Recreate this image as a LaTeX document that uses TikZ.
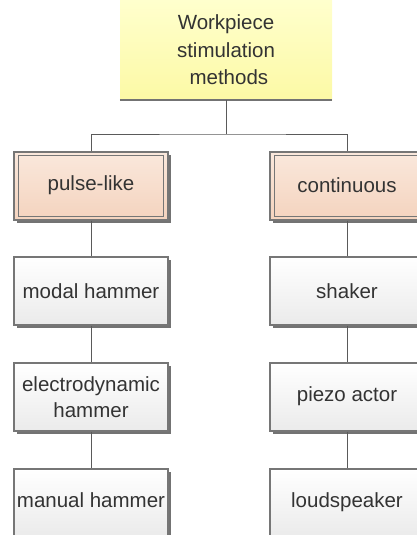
\documentclass[tikz,border=0pt]{standalone}
\usepackage{fontspec}
\setmainfont{Liberation Sans}
\usetikzlibrary{shadows}
\definecolor{txt}{HTML}{333333}
\definecolor{bord}{HTML}{767676}
\definecolor{conn}{HTML}{5A5A5A}
\tikzset{
  x=1pt, y=-1pt,
  lbl/.style={font=\fontsize{20.5}{26}\selectfont, text=txt, align=center, inner sep=0pt},
  whitebox/.style={lbl, rectangle, draw=bord, line width=1.2pt, minimum width=154pt, minimum height=68pt,
     top color=white, bottom color=black!8,
     drop shadow={shadow xshift=3pt, shadow yshift=-3pt, fill=black!55, opacity=1}},
  peachbox/.style={whitebox, top color={rgb,255:red,250;green,232;blue,220}, bottom color={rgb,255:red,244;green,211;blue,190}},
  topbox/.style={lbl, font=\fontsize{20.5}{27.5}\selectfont, rectangle, minimum width=212pt, minimum height=100pt,
     top color={rgb,255:red,255;green,255;blue,205}, bottom color={rgb,255:red,252;green,249;blue,165}},
  conline/.style={draw=conn, line width=1pt},
  inner/.style={draw=bord, line width=1pt}
}
\begin{document}
\begin{tikzpicture}
\useasboundingbox (0,0) rectangle (417,535);
\clip (0,0) rectangle (417,535);
% top
\node[topbox] (top) at (226,50) {Workpiece\\stimulation\\\ methods};
\draw[draw=black!55, line width=1.5pt] (top.south west) -- (top.south east);
% second level
\node[peachbox] (pulse) at (91,186) {\raisebox{5pt}{pulse-like}};
\node[peachbox] (cont) at (347,186) {\raisebox{2pt}{continuous}};
\foreach \n in {pulse,cont}{
  \draw[inner] ([shift={(5,4)}]\n.north west) rectangle ([shift={(-5,-4)}]\n.south east);
}
% third level
\node[whitebox] (modal) at (91,291) {modal hammer};
\node[whitebox] (electro) at (91,397) {electrodynamic\\hammer};
\node[whitebox] (manual) at (91,503) {\raisebox{5pt}{manual hammer}};
\node[whitebox] (shaker) at (347,291) {shaker};
\node[whitebox] (piezo) at (347,397) {\raisebox{5pt}{piezo actor}};
\node[whitebox] (loud) at (347,503) {\raisebox{5pt}{loudspeaker}};
% connectors
\coordinate (bus) at (226,134);
\draw[conline] (top.south) -- (bus);
\draw[conline] (pulse.north) |- (bus) -| (cont.north);
\draw[conline] (pulse.south) -- (modal.north);
\draw[conline] (modal.south) -- (electro.north);
\draw[conline] (electro.south) -- (manual.north);
\draw[conline] (cont.south) -- (shaker.north);
\draw[conline] (shaker.south) -- (piezo.north);
\draw[conline] (piezo.south) -- (loud.north);
\end{tikzpicture}
\end{document}
